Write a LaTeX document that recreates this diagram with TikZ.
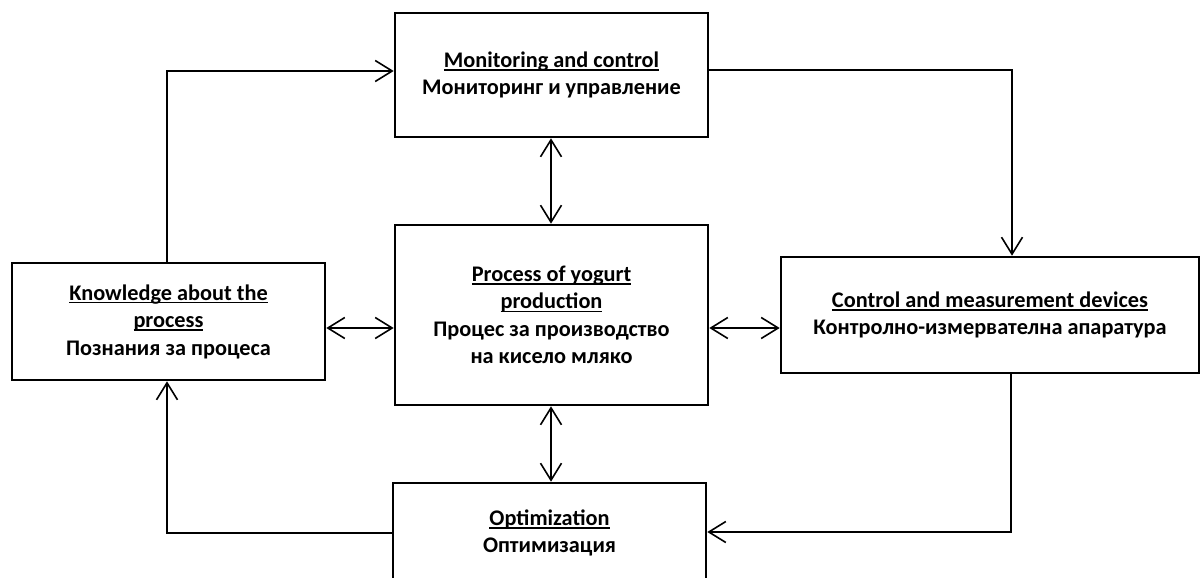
\documentclass[tikz,border=0pt]{standalone}
\usepackage{fontspec}
\setmainfont{Carlito}
\usetikzlibrary{arrows.meta}
\newcommand\myul[1]{\setbox0\hbox{#1}\rlap{\rule[-3.4pt]{\wd0}{1.5pt}}\box0}
\tikzset{
  box/.style={draw, line width=2.6pt, inner sep=0pt, align=center,
    font=\fontsize{22.3pt}{27.5pt}\selectfont\bfseries},
  conn/.style={line width=1.8pt},
  tip/.style={-{Straight Barb[length=17pt,width=21pt,line width=1.6pt]}},
  tips/.style={{Straight Barb[length=17pt,width=21pt,line width=1.6pt]}-{Straight Barb[length=17pt,width=21pt,line width=1.6pt]}},
}
\begin{document}
\begin{tikzpicture}[x=1pt,y=1pt]
\useasboundingbox (0,0) rectangle (1202,-578);
\node[box, minimum width=313pt, minimum height=124pt] (mon) at (551.5,-75)
  {\myul{Monitoring and control}\\ Мониторинг и управление};
\node[box, minimum width=313pt, minimum height=180pt] (proc) at (551.5,-315)
  {\myul{Process of yogurt}\\ \myul{production}\\ Процес за производство\\ на кисело мляко};
\node[box, minimum width=313pt, minimum height=117pt] (know) at (168.5,-321.5)
  {\myul{Knowledge about the}\\ \myul{process}\\ Познания за процеса};
\node[box, minimum width=418pt, minimum height=116pt] (ctrl) at (990,-315)
  {\myul{Control and measurement devices}\\ Контролно-измервателна апаратура};
\node[box, minimum width=313pt, minimum height=100pt] (opt) at (549.5,-533)
  {\myul{Optimization}\\ Оптимизация};
\coordinate (kx) at (167,-71);
\coordinate (mx) at (1012,-70);
\coordinate (cx) at (1011,-532);
\coordinate (ox) at (167,-533);
\coordinate (vy) at (551,0);
\coordinate (hy) at (0,-328);
\draw[conn,tip] (know.north -| kx) |- (mon.west |- kx);
\draw[conn,tip] (mon.east |- mx) -| (ctrl.north -| mx);
\draw[conn,tips] (mon.south -| vy) -- (proc.north -| vy);
\draw[conn,tips] (proc.south -| vy) -- (opt.north -| vy);
\draw[conn,tips] (know.east |- hy) -- (proc.west |- hy);
\draw[conn,tips] (proc.east |- hy) -- (ctrl.west |- hy);
\draw[conn,tip] (ctrl.south -| cx) |- (opt.east |- cx);
\draw[conn,tip] (opt.west |- ox) -| (know.south -| ox);
\end{tikzpicture}
\end{document}
